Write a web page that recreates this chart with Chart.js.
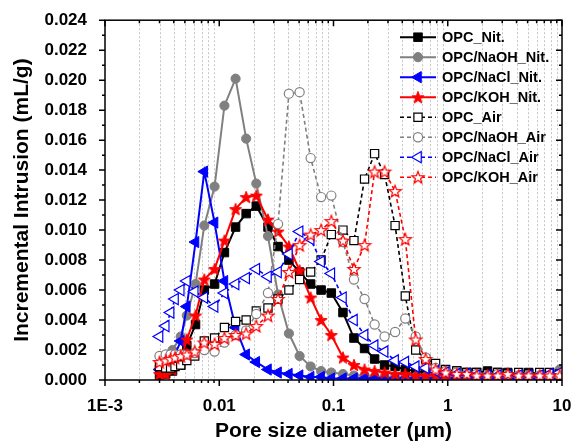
<!DOCTYPE html>
<html>
<head>
<meta charset="utf-8">
<script src="https://cdn.jsdelivr.net/npm/chart.js@4.4.1/dist/chart.umd.min.js"></script>
<style>
  html, body { margin: 0; padding: 0; background: #fff; }
  #wrap { width: 580px; height: 444px; }
</style>
</head>
<body>
<div id="wrap"><canvas id="chart" width="580" height="444"></canvas></div>
<script>
// pore diameters (um) for the nitrogen-dried and air-dried runs
const xNit = [0.0030, 0.0034, 0.0039, 0.0046, 0.0052, 0.0062, 0.0074, 0.0091, 0.0111, 0.0139,
  0.0172, 0.0211, 0.0267, 0.0327, 0.0407, 0.0505, 0.0631, 0.0779, 0.0957, 0.121,
  0.151, 0.187, 0.229, 0.280, 0.346, 0.425, 0.524, 0.640, 0.783, 0.959,
  1.20, 1.47, 1.79, 2.23, 2.74, 3.35, 4.18, 5.11, 6.38, 7.80, 9.55];
const xAir = [0.0030, 0.0034, 0.00375, 0.0041, 0.0046, 0.0052, 0.0061, 0.0074, 0.0091, 0.0111,
  0.0139, 0.0172, 0.0211, 0.0267, 0.0327, 0.0407, 0.0505, 0.0631, 0.0779, 0.0957,
  0.121, 0.151, 0.187, 0.229, 0.280, 0.346, 0.425, 0.524, 0.640, 0.783,
  0.959, 1.20, 1.47, 1.79, 2.23, 2.74, 3.35, 4.18, 5.11, 6.38, 7.80, 9.55];

// incremental intrusion (mL/g)
const opcNit = [0.0003, 0.0004, 0.0006, 0.0010, 0.0023, 0.0037, 0.0060, 0.0064, 0.0085, 0.0102,
  0.0111, 0.0116, 0.0102, 0.0089, 0.0080, 0.0072, 0.0064, 0.0060, 0.0058, 0.0045,
  0.0028, 0.0021, 0.0014, 0.0010, 0.0009, 0.0007, 0.0006, 0.0005, 0.0006, 0.0005,
  0.0006, 0.0005, 0.0005, 0.0006, 0.0005, 0.0005, 0.0004, 0.0005, 0.0004, 0.0004, 0.0003];
const naohNit = [0.0009, 0.0013, 0.0020, 0.0029, 0.0043, 0.0064, 0.0103, 0.0129, 0.0183, 0.0201,
  0.0161, 0.0131, 0.0096, 0.0057, 0.0031, 0.0016, 0.0009, 0.0006, 0.0005, 0.0004,
  0.0003, 0.0003, 0.0002, 0.0002, 0.0002, 0.0002, 0.0002, 0.0002, 0.0001, 0.0002,
  0.0002, 0.0001, 0.0002, 0.0002, 0.0001, 0.0002, 0.0002, 0.0002, 0.0003, 0.0004, 0.0007];
const naclNit = [0.0007, 0.0008, 0.0013, 0.0026, 0.0049, 0.0092, 0.0139, 0.0105, 0.0066, 0.0035,
  0.0017, 0.0012, 0.0007, 0.0005, 0.0004, 0.0003, 0.0002, 0.0002, 0.0001, 0.0001,
  0.0001, 0.0001, 0.0001, 0.0001, 0.0001, 0.0001, 0.0001, 0.0001, 0.0001, 0.0001,
  0.0001, 0.0001, 0.0001, 0.0001, 0.0001, 0.0001, 0.0001, 0.0001, 0.0001, 0.0001, 0.0001];
const kohNit = [0.0004, 0.0004, 0.0007, 0.0013, 0.0027, 0.0043, 0.0067, 0.0074, 0.0093, 0.0114,
  0.0122, 0.0123, 0.0107, 0.0099, 0.0089, 0.0073, 0.0055, 0.0040, 0.0030, 0.0015,
  0.0010, 0.0007, 0.0006, 0.0005, 0.0004, 0.0004, 0.0003, 0.0003, 0.0003, 0.0003,
  0.0003, 0.0003, 0.0002, 0.0003, 0.0002, 0.0002, 0.0002, 0.0002, 0.0002, 0.0002, 0.0002];
const opcAir = [0.0009, 0.0008, 0.0008, 0.0009, 0.0010, 0.0013, 0.0016, 0.0026, 0.0028, 0.0035,
  0.0039, 0.0040, 0.0046, 0.0048, 0.0054, 0.0060, 0.0067, 0.0072, 0.0080, 0.0097,
  0.0100, 0.0093, 0.0134, 0.0151, 0.0137, 0.0103, 0.0056, 0.0020, 0.0014, 0.0011,
  0.0007, 0.0006, 0.0005, 0.0005, 0.0004, 0.0005, 0.0004, 0.0005, 0.0004, 0.0005, 0.0005, 0.0004];
const naohAir = [0.0016, 0.0017, 0.0017, 0.0017, 0.0017, 0.0017, 0.0018, 0.0020, 0.0019, 0.0025,
  0.0030, 0.0033, 0.0044, 0.0058, 0.0104, 0.0191, 0.0192, 0.0148, 0.0122, 0.0123,
  0.0092, 0.0067, 0.0054, 0.0037, 0.0029, 0.0032, 0.0041, 0.0029, 0.0015, 0.0008,
  0.0006, 0.0005, 0.0004, 0.0004, 0.0003, 0.0004, 0.0003, 0.0003, 0.0003, 0.0003, 0.0003, 0.0003];
const naclAir = [0.0029, 0.0036, 0.0045, 0.0054, 0.0060, 0.0066, 0.0059, 0.0055, 0.0049, 0.0058,
  0.0064, 0.0068, 0.0074, 0.0069, 0.0072, 0.0084, 0.0099, 0.0094, 0.0079, 0.0071,
  0.0055, 0.0040, 0.0030, 0.0023, 0.0019, 0.0013, 0.0012, 0.0009, 0.0008, 0.0006,
  0.0005, 0.0004, 0.0004, 0.0003, 0.0003, 0.0003, 0.0003, 0.0003, 0.0003, 0.0003, 0.0004, 0.0005];
const kohAir = [0.0012, 0.0013, 0.0014, 0.0015, 0.0016, 0.0017, 0.0019, 0.0025, 0.0024, 0.0028,
  0.0030, 0.0031, 0.0036, 0.0043, 0.0054, 0.0072, 0.0090, 0.0097, 0.0100, 0.0106,
  0.0093, 0.0074, 0.0090, 0.0139, 0.0139, 0.0126, 0.0094, 0.0027, 0.0014, 0.0007,
  0.0005, 0.0004, 0.0004, 0.0003, 0.0003, 0.0003, 0.0004, 0.0003, 0.0003, 0.0003, 0.0003, 0.0003];

const seriesNames = ['OPC_Nit.', 'OPC/NaOH_Nit.', 'OPC/NaCl_Nit.', 'OPC/KOH_Nit.',
  'OPC_Air', 'OPC/NaOH_Air', 'OPC/NaCl_Air', 'OPC/KOH_Air'];

const xTickValues = [0.001, 0.01, 0.1, 1, 10];
const xTickLabels = ['1E-3', '0.01', '0.1', '1', '10'];
const yTickValues = [0, 0.002, 0.004, 0.006, 0.008, 0.010, 0.012, 0.014, 0.016, 0.018, 0.020, 0.022, 0.024];

const FONT = '"Liberation Sans", Arial, Helvetica, sans-serif';
const BLACK = '#000000', GRAY = '#808080', BLUE = '#0000ff', RED = '#ff0000';

// minor positions: 2..9 in every decade, odd thousandths on y
const xMinor = [];
xTickValues.slice(0, -1).forEach(d => { for (let k = 2; k <= 9; k++) xMinor.push(k * d); });
const yMinor = yTickValues.slice(0, -1).map(v => v + 0.001);

// five-point star markers (Chart.js has no such pointStyle)
function makeStar(fill, stroke, lw) {
  const c = document.createElement('canvas');
  c.width = 16; c.height = 16;
  const g = c.getContext('2d');
  g.beginPath();
  for (let k = 0; k < 10; k++) {
    const r = k % 2 ? 2.7 : 6.4;
    const ang = -Math.PI / 2 + k * Math.PI / 5;
    const px = 8 + r * Math.cos(ang), py = 8.6 + r * Math.sin(ang);
    if (k) g.lineTo(px, py); else g.moveTo(px, py);
  }
  g.closePath();
  g.fillStyle = fill; g.fill();
  g.lineWidth = lw; g.strokeStyle = stroke; g.stroke();
  return c;
}
const starFilled = makeStar(RED, RED, 1);
const starHollow = makeStar('#ffffff', RED, 1.2);

function series(i, xs, ys, color, style, hollow, radius, rotation) {
  const dashed = i >= 4;
  return {
    label: seriesNames[i],
    data: xs.map((x, k) => ({ x: x, y: ys[k] })),
    borderColor: color,
    borderWidth: dashed ? 1.6 : 2,
    borderDash: dashed ? [4, 3] : [],
    tension: 0,
    pointStyle: style,
    pointRadius: radius,
    pointHoverRadius: radius,
    pointRotation: rotation || 0,
    pointBackgroundColor: hollow ? '#ffffff' : color,
    pointBorderColor: color,
    pointBorderWidth: hollow ? 1.2 : 1,
    order: 8 - i
  };
}

const datasets = [
  series(0, xNit, opcNit, BLACK, 'rect', false, 6),
  series(1, xNit, naohNit, GRAY, 'circle', false, 4.6),
  series(2, xNit, naclNit, BLUE, 'triangle', false, 6.5, -90),
  series(3, xNit, kohNit, RED, starFilled, false, 6),
  series(4, xAir, opcAir, BLACK, 'rect', true, 5.8),
  series(5, xAir, naohAir, GRAY, 'circle', true, 4.6),
  series(6, xAir, naclAir, BLUE, 'triangle', true, 6.5, -90),
  series(7, xAir, kohAir, RED, starHollow, true, 6)
];

// marker for the legend, same shapes as Chart.js draws
function drawMarker(ctx, ds, x, y) {
  const s = ds.pointStyle, r = ds.pointRadius;
  if (typeof s === 'object') {
    ctx.drawImage(s, x - s.width / 2, y - s.height / 2);
    return;
  }
  ctx.beginPath();
  if (s === 'rect') {
    const h = r * Math.SQRT1_2;
    ctx.rect(x - h, y - h, 2 * h, 2 * h);
  } else if (s === 'circle') {
    ctx.arc(x, y, r, 0, Math.PI * 2);
  } else {
    let a = ds.pointRotation * Math.PI / 180;
    for (let k = 0; k < 3; k++) {
      const px = x + Math.sin(a) * r, py = y - Math.cos(a) * r;
      if (k) ctx.lineTo(px, py); else ctx.moveTo(px, py);
      a += Math.PI * 2 / 3;
    }
    ctx.closePath();
  }
  ctx.fillStyle = ds.pointBackgroundColor;
  ctx.fill();
  ctx.lineWidth = ds.pointBorderWidth;
  ctx.strokeStyle = ds.pointBorderColor;
  ctx.stroke();
}

const framePlugin = {
  id: 'frame',
  beforeDatasetsDraw(chart) {
    const { ctx, chartArea: a, scales: { x } } = chart;
    ctx.save();
    ctx.strokeStyle = '#c6c6c6';
    ctx.lineWidth = 1;
    ctx.setLineDash([2, 2]);
    xMinor.forEach(v => {
      const px = Math.round(x.getPixelForValue(v)) + 0.5;
      ctx.beginPath();
      ctx.moveTo(px, a.top);
      ctx.lineTo(px, a.bottom);
      ctx.stroke();
    });
    ctx.restore();
  },
  afterDatasetsDraw(chart) {
    const { ctx, chartArea: a, scales: { x, y } } = chart;
    ctx.save();
    ctx.strokeStyle = '#000';
    ctx.lineWidth = 1.5;
    ctx.beginPath();
    const seg = (x1, y1, x2, y2) => { ctx.moveTo(x1, y1); ctx.lineTo(x2, y2); };
    xTickValues.forEach(v => {
      const px = x.getPixelForValue(v);
      seg(px, a.bottom, px, a.bottom + 6);
      seg(px, a.top, px, a.top + 6);
    });
    xMinor.forEach(v => {
      const px = x.getPixelForValue(v);
      seg(px, a.bottom, px, a.bottom + 3);
      seg(px, a.top, px, a.top + 3);
    });
    yTickValues.forEach(v => {
      const py = y.getPixelForValue(v);
      seg(a.left - 6, py, a.left, py);
      seg(a.right - 6, py, a.right, py);
    });
    yMinor.forEach(v => {
      const py = y.getPixelForValue(v);
      seg(a.left - 3, py, a.left, py);
      seg(a.right - 3, py, a.right, py);
    });
    ctx.stroke();
    ctx.strokeRect(a.left, a.top, a.right - a.left, a.bottom - a.top);
    ctx.restore();
  },
  afterDraw(chart) {
    const { ctx, chartArea: a } = chart;
    chart.data.datasets.forEach((ds, i) => {
      const ly = a.top + 17 + i * 20;
      const x0 = a.right - 162, x1 = x0 + 36;
      ctx.save();
      ctx.strokeStyle = ds.borderColor;
      ctx.lineWidth = ds.borderWidth;
      ctx.setLineDash(ds.borderDash);
      ctx.beginPath();
      ctx.moveTo(x0, ly);
      ctx.lineTo(x1, ly);
      ctx.stroke();
      ctx.setLineDash([]);
      drawMarker(ctx, ds, (x0 + x1) / 2, ly);
      ctx.fillStyle = '#000';
      ctx.font = 'bold 14.5px ' + FONT;
      ctx.textBaseline = 'middle';
      ctx.fillText(ds.label, x1 + 6, ly + 1);
      ctx.restore();
    });
  }
};

new Chart(document.getElementById('chart'), {
  type: 'line',
  data: { datasets: datasets },
  options: {
    responsive: false,
    devicePixelRatio: 1,
    animation: false,
    layout: { padding: { top: 20, right: 18, left: 0, bottom: 0 } },
    plugins: { legend: { display: false }, tooltip: { enabled: false } },
    scales: {
      x: {
        type: 'logarithmic',
        min: 0.001,
        max: 10,
        grid: { display: false },
        border: { display: false },
        afterBuildTicks: scale => { scale.ticks = xTickValues.map(v => ({ value: v })); },
        afterFit: scale => { scale.height = 64; },
        ticks: {
          autoSkip: false,
          maxRotation: 0,
          padding: 8,
          color: '#000',
          font: { family: FONT, size: 17, weight: 'bold' },
          callback: v => {
            const k = xTickValues.findIndex(t => Math.abs(t - v) / t < 1e-6);
            return k < 0 ? '' : xTickLabels[k];
          }
        },
        title: {
          display: true,
          text: 'Pore size diameter (\u03bcm)',
          color: '#000',
          font: { family: FONT, size: 21, weight: 'bold' },
          padding: { top: 0, bottom: 0 }
        }
      },
      y: {
        type: 'linear',
        min: 0,
        max: 0.024,
        grid: { display: false },
        border: { display: false },
        afterBuildTicks: scale => { scale.ticks = yTickValues.map(v => ({ value: v })); },
        afterFit: scale => { scale.width = 105; },
        ticks: {
          padding: 10,
          color: '#000',
          font: { family: FONT, size: 17, weight: 'bold' },
          callback: v => v.toFixed(3)
        },
        title: {
          display: true,
          text: 'Incremental Intrusion (mL/g)',
          color: '#000',
          font: { family: FONT, size: 21, weight: 'bold' },
          padding: { top: 10, bottom: 0 }
        }
      }
    }
  },
  plugins: [framePlugin]
});
</script>
</body>
</html>
